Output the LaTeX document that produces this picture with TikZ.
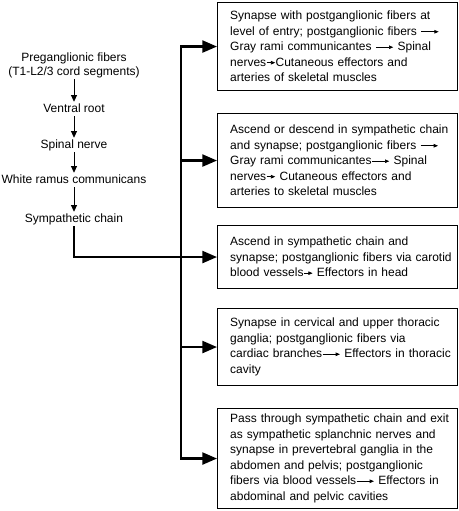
\documentclass[tikz,border=0pt]{standalone}
\usepackage{fontspec}
\setmainfont{Liberation Sans}
\usetikzlibrary{arrows.meta}
\newcommand{\larr}{\tikz[baseline=-2.7pt]\draw[line width=0.55pt,-{Triangle[length=3.2pt,width=2.6pt]}] (0pt,0pt)--(13pt,0pt);}
\newcommand{\sarr}{\tikz[baseline=-2.7pt]\draw[line width=0.55pt,-{Triangle[length=3.2pt,width=2.6pt]}] (0pt,0pt)--(6.5pt,0pt);}
\begin{document}
\begin{tikzpicture}[x=0.75pt,y=-0.75pt,
  box/.style={draw, line width=0.8pt, anchor=north west, minimum width=180pt,
    text width=161pt, inner xsep=9.5pt, inner ysep=2pt, align=left,
    font=\fontsize{9}{11.6}\selectfont},
  lbl/.style={anchor=base, text height=6.5pt, text depth=2pt, inner ysep=1pt,
    inner xsep=0pt, font=\fontsize{9}{11}\selectfont},
  smallarrow/.style={line width=0.6pt, -{Triangle[length=5pt,width=4.5pt]}},
  bigarrow/.style={line width=1.7pt, line join=miter, -{Triangle[length=11pt,width=9pt]}}]
\useasboundingbox (0,0) rectangle (459,511);

% left chain
\node[lbl] (pre1) at (74,61) {Preganglionic fibers};
\node[lbl] (pre2) at (74,75) {(T1-L2/3 cord segments)};
\node[lbl] (vr) at (74,112) {Ventral root};
\node[lbl] (sn) at (74,148) {Spinal nerve};
\node[lbl] (wr) at (74,183) {White ramus communicans};
\node[lbl] (sc) at (74,222) {Sympathetic chain};
\draw[smallarrow] (pre2.south) -- (vr.north);
\draw[smallarrow] (vr.south) -- (sn.north);
\draw[smallarrow] (sn.south) -- (wr.north);
\draw[smallarrow] (wr.south) -- (sc.north);

% boxes
\node[box, minimum height=66pt] (b1) at (217,2) {%
\mbox{Synapse with postganglionic fibers at}\\
\mbox{level of entry; postganglionic fibers \larr}\\
\mbox{Gray rami communicantes \larr\ Spinal}\\
\mbox{nerves\sarr Cutaneous effectors and}\\
\mbox{arteries of skeletal muscles}};
\node[box, minimum height=70.5pt] (b2) at (217,113) {%
\mbox{Ascend or descend in sympathetic chain}\\
\mbox{and synapse; postganglionic fibers \larr}\\
\mbox{Gray rami communicantes\larr\ Spinal}\\
\mbox{nerves\sarr\ Cutaneous effectors and}\\
\mbox{arteries to skeletal muscles}};
\node[box, minimum height=47.25pt] (b3) at (217,225) {%
\mbox{Ascend in sympathetic chain and}\\
\mbox{synapse; postganglionic fibers via carotid}\\
\mbox{blood vessels\sarr\ Effectors in head}};
\node[box, minimum height=57.75pt] (b4) at (217,308) {%
\mbox{Synapse in cervical and upper thoracic}\\
\mbox{ganglia; postganglionic fibers via}\\
\mbox{cardiac branches\larr\ Effectors in thoracic}\\
\mbox{cavity}};
\node[box, minimum height=75pt] (b5) at (217,408) {%
\mbox{Pass through sympathetic chain and exit}\\
\mbox{as sympathetic splanchnic nerves and}\\
\mbox{synapse in prevertebral ganglia in the}\\
\mbox{abdomen and pelvis; postganglionic}\\
\mbox{fibers via blood vessels\larr\ Effectors in}\\
\mbox{abdominal and pelvic cavities}};

% trunk
\coordinate (trunk) at (181,0);
\coordinate (c5) at (trunk |- b5.west);
\draw[bigarrow, {Triangle[length=11pt,width=9pt]}-{Triangle[length=11pt,width=9pt]}] (b1.west) -| (c5) -- (b5.west);
\draw[bigarrow] (trunk |- b2.west) -- (b2.west);
\draw[bigarrow] (trunk |- b4.west) -- (b4.west);
\draw[bigarrow] (sc.south) |- (b3.west);
\end{tikzpicture}
\end{document}
